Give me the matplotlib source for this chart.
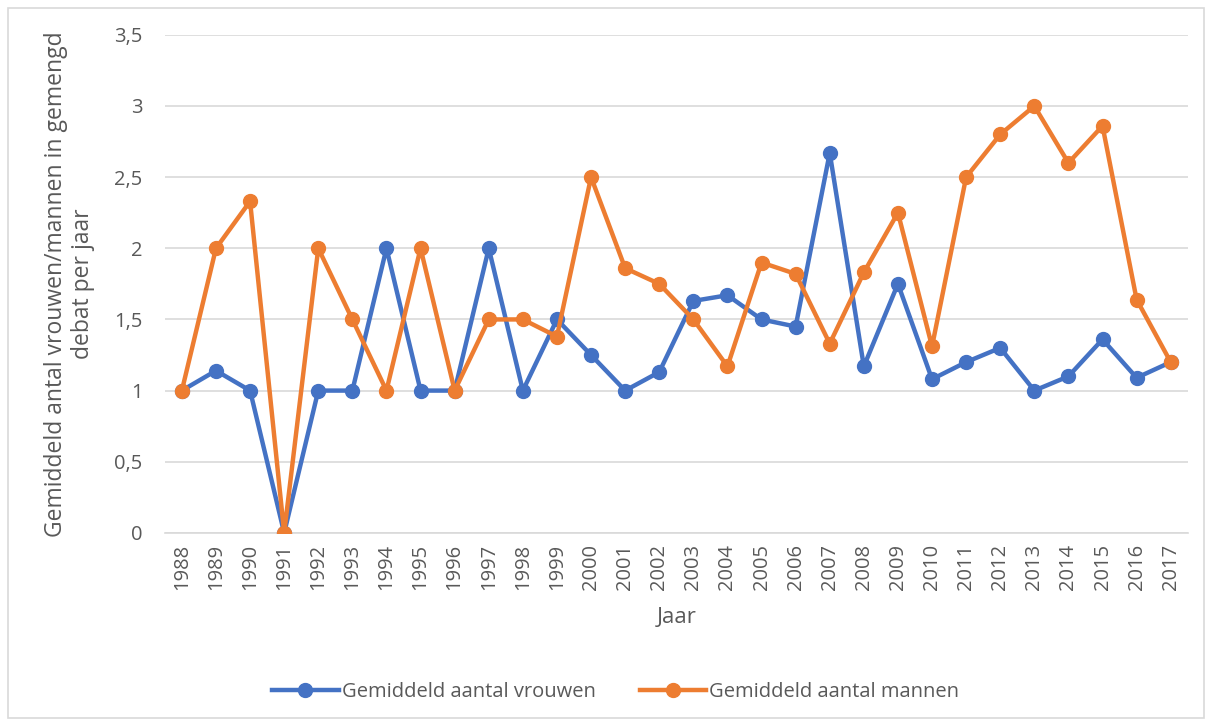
import matplotlib.pyplot as plt
from matplotlib.patches import Rectangle
from matplotlib.ticker import FuncFormatter

plt.rcParams['font.family'] = ['Open Sans', 'DejaVu Sans']

jaren = [str(j) for j in range(1988, 2018)]
vrouwen = [1, 1.14, 1, 0, 1, 1, 2, 1, 1, 2, 1, 1.5, 1.25, 1, 1.13,
           1.63, 1.67, 1.5, 1.45, 2.67, 1.17, 1.75, 1.08, 1.2, 1.3,
           1, 1.1, 1.36, 1.09, 1.2]
mannen = [1, 2, 2.33, 0, 2, 1.5, 1, 2, 1, 1.5, 1.5, 1.38, 2.5, 1.86, 1.75,
          1.5, 1.17, 1.9, 1.82, 1.33, 1.83, 2.25, 1.31, 2.5, 2.8,
          3, 2.6, 2.86, 1.64, 1.2]

BLAUW = "#4472C4"
ORANJE = "#ED7D31"
TEKST = "#595959"

fig = plt.figure(figsize=(12.12, 7.26), dpi=100)
# lichte kader rond de grafiek
fig.patches.append(Rectangle((0.007, 0.011), 0.986, 0.978, transform=fig.transFigure,
                             fill=False, edgecolor="#D9D9D9", linewidth=1.2))
ax = fig.add_axes([0.136, 0.266, 0.844, 0.686])

x = range(len(jaren))
ax.plot(x, vrouwen, color=BLAUW, linewidth=3.2, marker="o", markersize=10,
        label="Gemiddeld aantal vrouwen", zorder=3)
ax.plot(x, mannen, color=ORANJE, linewidth=3.2, marker="o", markersize=10,
        label="Gemiddeld aantal mannen", zorder=4)

ax.set_xlim(-0.5, len(jaren) - 0.5)
ax.set_ylim(0, 3.5)
ax.set_yticks([0, 0.5, 1, 1.5, 2, 2.5, 3, 3.5])
ax.yaxis.set_major_formatter(FuncFormatter(lambda v, p: f"{v:g}".replace(".", ",")))
ax.set_xticks(list(x))
ax.set_xticklabels(jaren, rotation=90)
ax.grid(axis="y", color="#D9D9D9", linewidth=1.2)
ax.set_axisbelow(True)
for s in ["top", "right", "left"]:
    ax.spines[s].set_visible(False)
ax.spines["bottom"].set_color("#D9D9D9")
ax.spines["bottom"].set_linewidth(1.2)
ax.tick_params(axis="both", length=0, labelsize=14.5, labelcolor=TEKST)
ax.tick_params(axis="y", pad=16)
ax.tick_params(axis="x", pad=8)

ax.set_xlabel("Jaar", fontsize=16, color=TEKST, labelpad=12)
ax.set_ylabel("Gemiddeld antal vrouwen/mannen in gemengd\ndebat per jaar",
              fontsize=16.5, color=TEKST, labelpad=14, linespacing=1.15)

fig.legend(loc="center", bbox_to_anchor=(0.508, 0.047), ncol=2, frameon=False,
           fontsize=14.5, labelcolor=TEKST, handlelength=3.3, handletextpad=0.15,
           columnspacing=2.2)

fig.savefig("out.png", dpi=100)
